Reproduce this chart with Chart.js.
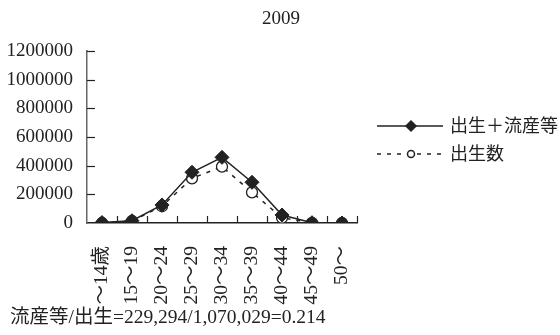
<!DOCTYPE html>
<html>
<head>
<meta charset="utf-8">
<script src="https://cdn.jsdelivr.net/npm/chart.js@4/dist/chart.umd.min.js"></script>
<style>
  html, body { margin: 0; padding: 0; background: #fff; }
  #wrap { width: 560px; height: 335px; }
</style>
</head>
<body>
<div id="wrap"><canvas id="chart" width="560" height="335"></canvas></div>
<script>
// データ
const ageGroups = ["～14歳", "15～19", "20～24", "25～29", "30～34", "35～39", "40～44", "45～49", "50～"];
const birthsPlusLoss = [3000, 16000, 126000, 354000, 458000, 284000, 56000, 2000, 0];
const births = [0, 14000, 117000, 312000, 393000, 214000, 37000, 1000, 0];
const seriesNames = ["出生＋流産等", "出生数"];
const yearTitle = "2009";
const footNote = "流産等/出生=229,294/1,070,029=0.214";

const FONT = "'Liberation Serif', 'DejaVu Serif', 'Noto Sans CJK JP', serif";
const INK = "#222";

// 目盛り線（内向き）、凡例、タイトル、注記
const extrasPlugin = {
    id: "extras",
    beforeDatasetsDraw(chart) {
        const ctx = chart.ctx;
        const x = chart.scales.x, y = chart.scales.y;
        const area = chart.chartArea;
        ctx.save();
        ctx.strokeStyle = INK;
        ctx.lineWidth = 1.2;
        // y軸の目盛り
        y.ticks.forEach(t => {
            if (t.value === 0) return;
            const py = Math.round(y.getPixelForValue(t.value)) + 0.5;
            ctx.beginPath();
            ctx.moveTo(area.left, py);
            ctx.lineTo(area.left + 8, py);
            ctx.stroke();
        });
        // x軸の目盛り（区切り）
        const n = ageGroups.length;
        for (let i = 1; i <= n; i++) {
            const px = (i < n)
                ? (x.getPixelForValue(i - 1) + x.getPixelForValue(i)) / 2
                : area.right;
            const rx = Math.round(px) + 0.5;
            ctx.beginPath();
            ctx.moveTo(rx, area.bottom);
            ctx.lineTo(rx, area.bottom - 7);
            ctx.stroke();
        }
        ctx.restore();
    },
    afterDraw(chart) {
        const ctx = chart.ctx;
        ctx.save();
        ctx.fillStyle = INK;
        ctx.font = "19px " + FONT;
        ctx.textBaseline = "middle";

        // タイトル
        ctx.textAlign = "center";
        ctx.fillText(yearTitle, 281, 19);

        // 注記
        ctx.textAlign = "left";
        ctx.font = "19.5px " + FONT;
        ctx.fillText(footNote, 10, 318);

        // 凡例
        ctx.font = "18px " + FONT;
        chart.data.datasets.forEach((ds, i) => {
            const ly = 126 + i * 28;
            ctx.save();
            ctx.strokeStyle = ds.borderColor;
            ctx.lineWidth = ds.borderWidth;
            ctx.setLineDash(ds.borderDash || []);
            ctx.beginPath();
            ctx.moveTo(377, ly);
            ctx.lineTo(443, ly);
            ctx.stroke();
            ctx.setLineDash([]);
            ctx.fillStyle = ds.pointBackgroundColor;
            ctx.strokeStyle = ds.pointBorderColor;
            Chart.helpers.drawPoint(ctx, {
                pointStyle: ds.pointStyle,
                radius: ds.pointStyle === "circle" ? 3.5 : 5,
                borderWidth: 1.2,
                rotation: 0
            }, 411, ly);
            ctx.restore();
            ctx.fillStyle = INK;
            ctx.fillText(ds.label, 450, ly + 1);
        });
        ctx.restore();
    }
};

new Chart(document.getElementById("chart"), {
    type: "line",
    data: {
        labels: ageGroups,
        datasets: [
            {
                label: seriesNames[0],
                data: birthsPlusLoss,
                borderColor: INK,
                borderWidth: 1.5,
                pointStyle: "rectRot",
                pointRadius: 7,
                pointBackgroundColor: INK,
                pointBorderColor: INK,
                pointBorderWidth: 1,
                tension: 0
            },
            {
                label: seriesNames[1],
                data: births,
                borderColor: INK,
                borderWidth: 1.5,
                borderDash: [4, 6],
                pointStyle: "circle",
                pointRadius: 5.5,
                pointBackgroundColor: "#fff",
                pointBorderColor: INK,
                pointBorderWidth: 1.3,
                tension: 0
            }
        ]
    },
    options: {
        responsive: false,
        animation: false,
        layout: { padding: { left: 0, right: 203, top: 51, bottom: 0 } },
        plugins: {
            legend: { display: false },
            title: { display: false },
            tooltip: { enabled: false }
        },
        scales: {
            x: {
                offset: true,
                grid: { display: false, drawTicks: false },
                border: { display: true, color: INK, width: 1.5 },
                ticks: {
                    color: INK,
                    font: { family: FONT, size: 19.5 },
                    minRotation: 90,
                    maxRotation: 90,
                    padding: 23,
                    autoSkip: false
                },
                afterFit(scale) { scale.height = 112; }
            },
            y: {
                min: 0,
                max: 1200000,
                grid: { display: false, drawTicks: false },
                border: { display: true, color: "#666", width: 1.5 },
                ticks: {
                    stepSize: 200000,
                    color: INK,
                    font: { family: FONT, size: 19 },
                    padding: 14,
                    callback: v => String(v)
                },
                afterFit(scale) { scale.width = 87; }
            }
        }
    },
    plugins: [extrasPlugin]
});
</script>
</body>
</html>
